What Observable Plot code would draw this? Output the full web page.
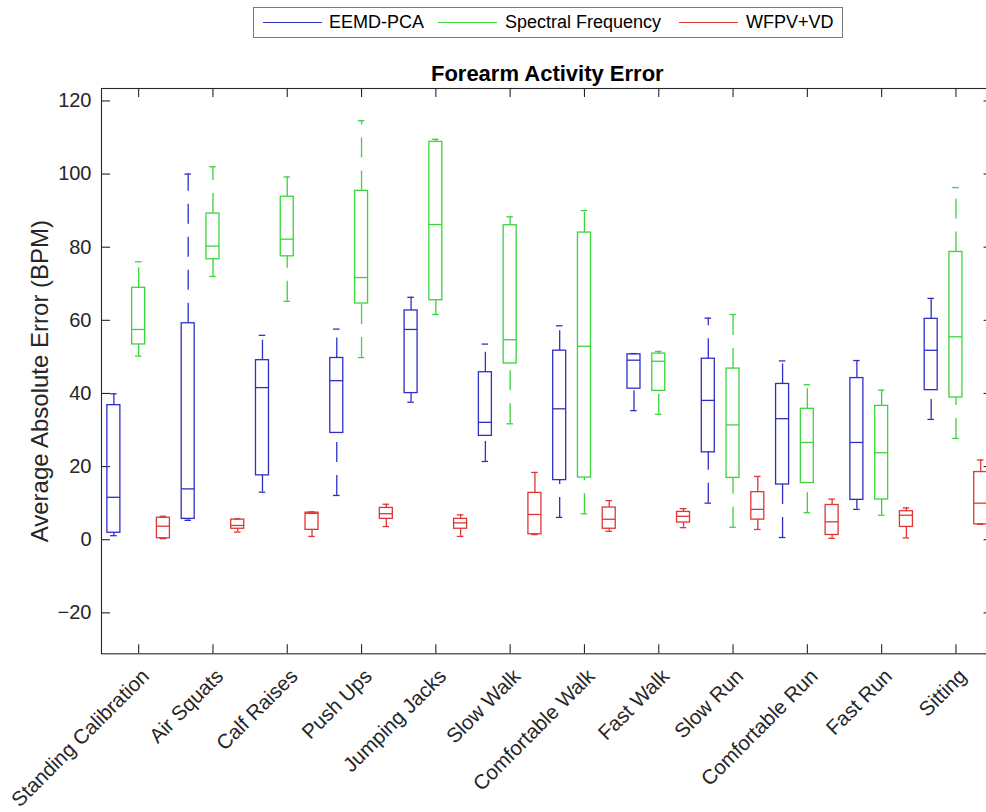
<!DOCTYPE html>
<html><head><meta charset="utf-8">
<script src="https://cdn.jsdelivr.net/npm/d3@7"></script>
<script src="https://cdn.jsdelivr.net/npm/@observablehq/plot@0.6"></script>
<style>
html,body{margin:0;padding:0;background:#fff;overflow:hidden;}
#wrap{position:relative;width:986px;height:812px;overflow:hidden;font-family:"Liberation Sans",Arial,Helvetica,sans-serif;}
#chart{position:absolute;left:0;top:0;}
#legend{position:absolute;left:253px;top:7px;width:588px;height:29px;border:1px solid #7a7a7a;background:#fff;}
.lg-line{position:absolute;top:14px;height:0;border-top:1.3px solid;}
.lg-text{position:absolute;top:0;line-height:29px;font-size:18px;color:#000;white-space:nowrap;}
</style></head><body>
<div id="wrap"><div id="chart"></div><div id="legend"></div></div>
<script>
// ---------- data ----------
const categories = ["Standing Calibration","Air Squats","Calf Raises","Push Ups","Jumping Jacks","Slow Walk","Comfortable Walk","Fast Walk","Slow Run","Comfortable Run","Fast Run","Sitting"];
const seriesNames = ["EEMD-PCA","Spectral Frequency","WFPV+VD"];
const seriesColors = ["#2f2fc6","#3bd43b","#e03535"];
// five-number summaries: [lower whisker, Q1, median, Q3, upper whisker]
const eemdPca = [
  [1.1, 1.9, 11.6, 36.8, 39.9],
  [5.3, 5.7, 13.9, 59.2, 100.0],
  [13.0, 17.6, 41.6, 49.1, 55.9],
  [12.1, 29.2, 43.5, 49.7, 57.6],
  [37.6, 40.1, 57.5, 62.7, 66.3],
  [21.4, 28.4, 32.1, 45.8, 53.5],
  [6.1, 16.3, 35.8, 51.7, 58.5],
  [35.3, 41.3, 49.1, 50.7, 50.9],
  [10.0, 23.9, 38.1, 49.5, 60.6],
  [0.6, 15.1, 33.1, 42.6, 48.9],
  [8.3, 10.9, 26.6, 44.2, 49.0],
  [32.9, 40.9, 51.8, 60.4, 66.0]
];
const spectral = [
  [50.2, 53.4, 57.5, 68.9, 76.0],
  [72.0, 76.7, 80.3, 89.2, 102.0],
  [65.2, 77.5, 82.2, 93.8, 99.2],
  [49.8, 64.6, 71.7, 95.4, 114.6],
  [61.6, 65.5, 86.2, 108.8, 109.5],
  [31.7, 48.2, 54.7, 86.0, 88.3],
  [7.1, 17.0, 52.9, 84.0, 90.0],
  [34.3, 40.7, 48.8, 50.9, 51.5],
  [3.4, 16.9, 31.4, 46.8, 61.6],
  [7.4, 15.5, 26.6, 35.8, 42.4],
  [6.7, 11.0, 23.8, 36.6, 40.9],
  [27.7, 38.9, 55.5, 78.7, 96.3]
];
const wfpvVd = [
  [0.3, 0.4, 3.7, 6.0, 6.4],
  [2.1, 3.0, 3.9, 5.5, 5.7],
  [0.9, 2.7, 7.2, 7.4, 7.6],
  [3.6, 5.7, 7.1, 8.7, 9.7],
  [0.9, 3.0, 4.6, 5.7, 6.8],
  [1.4, 1.5, 6.9, 12.8, 18.4],
  [2.3, 3.0, 5.6, 8.8, 10.7],
  [3.3, 4.7, 6.4, 7.6, 8.5],
  [2.8, 5.5, 8.3, 13.0, 17.3],
  [0.4, 1.3, 4.9, 9.5, 11.1],
  [0.5, 3.5, 6.7, 7.8, 8.7],
  [4.2, 4.2, 10.0, 18.5, 21.8]
];
const yTicks = [-20, 0, 20, 40, 60, 80, 100, 120];
const titleText = "Forearm Activity Error";
const yLabelText = "Average Absolute Error (BPM)";

// ---------- build table ----------
const dodge = [-1/3, 0, 1/3];
const rows = [];
[eemdPca, spectral, wfpvVd].forEach((s, si) => s.forEach((v, ci) => rows.push({
  series: seriesNames[si], pos: ci + 1 + dodge[si],
  lo: v[0], q1: v[1], med: v[2], q3: v[3], hi: v[4]
})));
const catIdx = categories.map((c, i) => i + 1);

const W = 986, H = 812, mL = 101, mR = -6.6, mT = 88, mB = 158.7;
const frameW = W - mL - mR, frameH = H - mT - mB;
const tl = 9;            // tick length (px)
const hw = 0.0875;       // half box width (x units)
const cw = 0.044;        // half cap width
const sw = 1.3;
const axisColor = "#262626";

const chart = Plot.plot({
  width: W, height: H,
  marginTop: mT, marginBottom: mB, marginLeft: mL, marginRight: mR,
  x: {domain: [0.5, 12.5], axis: null},
  y: {domain: [-31.2, 123.4]},
  color: {domain: seriesNames, range: seriesColors},
  style: {fontFamily: '"Liberation Sans", Arial, Helvetica, sans-serif', background: "#fff", overflow: "hidden", color: axisColor},
  marks: [
    Plot.frame({stroke: axisColor, strokeWidth: 1.1}),
    // inward ticks
    Plot.tickX(catIdx, {x: d => d, insetTop: frameH - tl, stroke: axisColor, strokeWidth: 1.1}),
    Plot.tickX(catIdx, {x: d => d, insetBottom: frameH - tl, stroke: axisColor, strokeWidth: 1.1}),
    Plot.tickY(yTicks, {y: d => d, insetRight: frameW - tl, stroke: axisColor, strokeWidth: 1.1}),
    Plot.tickY(yTicks, {y: d => d, insetLeft: frameW - tl, stroke: axisColor, strokeWidth: 1.1}),
    Plot.axisY({ticks: yTicks, tickSize: 0, tickPadding: 10, fontSize: 20, label: null, fill: axisColor}),
    // whiskers
    Plot.ruleX(rows, {x: "pos", y1: "lo", y2: "q1", stroke: "series", strokeWidth: sw, strokeDasharray: "20,13"}),
    Plot.ruleX(rows, {x: "pos", y1: "q3", y2: "hi", stroke: "series", strokeWidth: sw, strokeDasharray: "20,13"}),
    // caps
    Plot.ruleY(rows, {y: "hi", x1: d => d.pos - cw, x2: d => d.pos + cw, stroke: "series", strokeWidth: sw}),
    Plot.ruleY(rows, {y: "lo", x1: d => d.pos - cw, x2: d => d.pos + cw, stroke: "series", strokeWidth: sw}),
    // boxes
    Plot.rect(rows, {x1: d => d.pos - hw, x2: d => d.pos + hw, y1: "q1", y2: "q3", stroke: "series", fill: "none", strokeWidth: sw}),
    // medians
    Plot.ruleY(rows, {y: "med", x1: d => d.pos - hw, x2: d => d.pos + hw, stroke: "series", strokeWidth: sw}),
    // category labels
    Plot.text(categories, {x: (d, i) => i + 1, frameAnchor: "bottom", text: d => d, rotate: -45, textAnchor: "end", lineAnchor: "middle", dx: 7, dy: 19, fontSize: 20.5, fill: axisColor}),
    // y label
    Plot.text([yLabelText], {frameAnchor: "left", text: d => d, rotate: -90, textAnchor: "middle", lineAnchor: "middle", dx: -61, dy: 10, fontSize: 24, fill: axisColor}),
    // title
    Plot.text([titleText], {frameAnchor: "top", text: d => d, textAnchor: "middle", lineAnchor: "bottom", dy: -8, fontSize: 22, fontWeight: "bold", fill: "#000"})
  ]
});
document.getElementById("chart").appendChild(chart);

// ---------- legend ----------
const lgLineX = [9, 184, 425], lgTextX = [75, 251, 492], lgLineW = 59;
const legend = document.getElementById("legend");
seriesNames.forEach((name, i) => {
  const ln = document.createElement("div");
  ln.className = "lg-line";
  ln.style.left = lgLineX[i] + "px";
  ln.style.width = lgLineW + "px";
  ln.style.borderTopColor = seriesColors[i];
  legend.appendChild(ln);
  const tx = document.createElement("div");
  tx.className = "lg-text";
  tx.style.left = lgTextX[i] + "px";
  tx.textContent = name;
  legend.appendChild(tx);
});
</script>
</body></html>
